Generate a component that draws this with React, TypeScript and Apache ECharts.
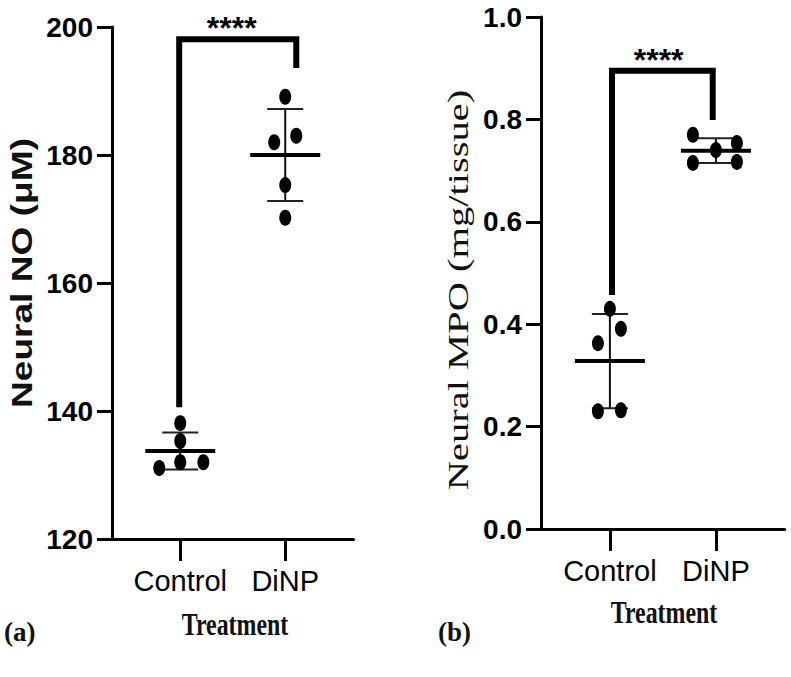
import React, { useEffect, useRef } from "react";
import * as echarts from "echarts";

// ---------- data ----------
const categories = ["Control", "DiNP"];

// Panel (a): Neural NO (µM)
const noAxis = [120, 200, 20]; // min, max, interval
const noControlX = [1, 1, 1, 1.22, 0.8];
const noControlY = [138.1, 135.3, 132.0, 132.0, 131.1];
const noDinpX = [2, 2.105, 1.895, 2, 2];
const noDinpY = [189.1, 183.0, 182.0, 175.3, 170.2];
const noMean = [133.75, 180.0];
const noSD = [2.9, 7.2];
const noBracketX = [0.99, 2.105];
const noBracketY = [140.6, 198.1, 193.6];
const noStarsX = 1.49;

// Panel (b): Neural MPO (mg/tissue)
const mpoAxis = [0, 1, 0.2];
const mpoControlX = [1, 1.104, 0.887, 0.887, 1.104];
const mpoControlY = [0.43, 0.391, 0.363, 0.23, 0.232];
const mpoDinpX = [1.783, 2, 2.198, 1.783, 2.198];
const mpoDinpY = [0.77, 0.74, 0.754, 0.715, 0.717];
const mpoMean = [0.328, 0.739];
const mpoSD = [0.092, 0.024];
const mpoBracketX = [1.02, 1.97];
const mpoBracketY = [0.457, 0.895, 0.799];
const mpoStarsX = 1.46;

const sigLabel = "****";
// --------------------------------------------------

const SANS = "'Liberation Sans', Arial, sans-serif";
const SERIF = "'Liberation Serif', 'Times New Roman', serif";

function xAxisFor(gridIndex: number) {
  return {
    type: "value",
    gridIndex,
    min: 0.35,
    max: 2.65,
    splitLine: { show: false },
    axisLine: { show: true, onZero: false, lineStyle: { color: "#000", width: 3 } },
    axisTick: { show: true, customValues: [1, 2], length: 22, lineStyle: { color: "#000", width: 3 } },
    axisLabel: {
      show: true,
      customValues: [1, 2],
      formatter: (v: number) => categories[Math.round(v) - 1] || "",
      color: "#000",
      fontFamily: SANS,
      fontSize: 29,
      margin: 27,
    },
  };
}

function yAxisFor(gridIndex: number, ax: number[], digits: number) {
  return {
    type: "value",
    gridIndex,
    min: ax[0],
    max: ax[1],
    interval: ax[2],
    splitLine: { show: false },
    axisLine: { show: true, onZero: false, lineStyle: { color: "#000", width: 3 } },
    axisTick: { show: true, length: 15, lineStyle: { color: "#000", width: 3 } },
    axisLabel: {
      color: "#000",
      fontFamily: SANS,
      fontWeight: "bold",
      fontSize: 28,
      margin: 19,
      formatter: (v: number) => v.toFixed(digits),
    },
  };
}

function pointsOf(xs: number[], ys: number[]) {
  return xs.map((x, i) => [x, ys[i]]);
}

function meanSdSeries(idx: number, mean: number[], sd: number[]) {
  return {
    type: "custom",
    xAxisIndex: idx,
    yAxisIndex: idx,
    z: 3,
    data: mean.map((m, i) => [i + 1, m, sd[i]]),
    renderItem: (params: any, api: any) => {
      const x = api.value(0);
      const m = api.value(1);
      const s = api.value(2);
      const pm = api.coord([x, m]);
      const pt = api.coord([x, m + s]);
      const pb = api.coord([x, m - s]);
      return {
        type: "group",
        children: [
          { type: "line", shape: { x1: pt[0], y1: pt[1], x2: pb[0], y2: pb[1] }, style: { stroke: "#111", lineWidth: 2 } },
          { type: "line", shape: { x1: pt[0] - 18, y1: pt[1], x2: pt[0] + 18, y2: pt[1] }, style: { stroke: "#222", lineWidth: 2 } },
          { type: "line", shape: { x1: pb[0] - 18, y1: pb[1], x2: pb[0] + 18, y2: pb[1] }, style: { stroke: "#222", lineWidth: 2 } },
          { type: "line", shape: { x1: pm[0] - 35, y1: pm[1], x2: pm[0] + 35, y2: pm[1] }, style: { stroke: "#000", lineWidth: 4 } },
        ],
      };
    },
  };
}

function dotsSeries(idx: number, xs: number[], ys: number[]) {
  return {
    type: "scatter",
    xAxisIndex: idx,
    yAxisIndex: idx,
    z: 4,
    symbol: "circle",
    symbolSize: [12, 16],
    itemStyle: { color: "#000", opacity: 1 },
    data: pointsOf(xs, ys),
  };
}

function bracketSeries(idx: number, bx: number[], by: number[]) {
  return {
    type: "line",
    xAxisIndex: idx,
    yAxisIndex: idx,
    z: 2,
    symbol: "none",
    clip: false,
    lineStyle: { color: "#000", width: 6, join: "miter", cap: "butt" },
    data: [
      [bx[0], by[0]],
      [bx[0], by[1]],
      [bx[1], by[1]],
      [bx[1], by[2]],
    ],
  };
}

function starsSeries(idx: number, sx: number, by: number[]) {
  return {
    type: "scatter",
    xAxisIndex: idx,
    yAxisIndex: idx,
    z: 5,
    symbolSize: 0,
    clip: false,
    itemStyle: { opacity: 1 },
    label: {
      show: true,
      position: "top",
      distance: 0,
      formatter: () => sigLabel,
      color: "#000",
      fontFamily: SANS,
      fontWeight: "bold",
      fontSize: 32,
      lineHeight: 32,
      offset: [0, 5],
    },
    data: [[sx, by[1]]],
  };
}

function txt(text: string, x: number, y: number, font: string, extra: any = {}, align = "center") {
  return {
    type: "text",
    x,
    y,
    ...extra,
    style: {
      text,
      font,
      fill: "#111",
      align,
      verticalAlign: "middle",
      textAlign: align,
      textVerticalAlign: "middle",
    },
  };
}

export default function App() {
  const ref = useRef<HTMLDivElement>(null);

  useEffect(() => {
    if (!ref.current) return;
    const chart = echarts.init(ref.current, undefined, { renderer: "svg" });
    const option: any = {
      animation: false,
      backgroundColor: "#fff",
      grid: [
        { left: 112, top: 27, width: 241.5, height: 512, containLabel: false, outerBoundsMode: "none" },
        { left: 541, top: 17, width: 243.8, height: 512, containLabel: false, outerBoundsMode: "none" },
      ],
      xAxis: [xAxisFor(0), xAxisFor(1)],
      yAxis: [yAxisFor(0, noAxis, 0), yAxisFor(1, mpoAxis, 1)],
      series: [
        bracketSeries(0, noBracketX, noBracketY),
        starsSeries(0, noStarsX, noBracketY),
        meanSdSeries(0, noMean, noSD),
        dotsSeries(0, noControlX, noControlY),
        dotsSeries(0, noDinpX, noDinpY),
        bracketSeries(1, mpoBracketX, mpoBracketY),
        starsSeries(1, mpoStarsX, mpoBracketY),
        meanSdSeries(1, mpoMean, mpoSD),
        dotsSeries(1, mpoControlX, mpoControlY),
        dotsSeries(1, mpoDinpX, mpoDinpY),
      ],
      graphic: [
        txt("Neural NO (μM)", 22, 273, `bold 29px ${SANS}`, { rotation: Math.PI / 2, scaleX: 1.28 }),
        txt("Neural MPO (mg/tissue)", 458, 290, `30px ${SERIF}`, { rotation: Math.PI / 2, scaleX: 1.35 }),
        txt("Treatment", 235, 624, `bold 31px ${SERIF}`, { scaleX: 0.77 }),
        txt("Treatment", 664, 612, `bold 31px ${SERIF}`, { scaleX: 0.77 }),
        txt("(a)", 4, 632, `bold 27px ${SERIF}`, {}, "left"),
        txt("(b)", 438, 632, `bold 27px ${SERIF}`, {}, "left"),
      ],
    };
    chart.setOption(option);
    return () => chart.dispose();
  }, []);

  return (
    <div
      ref={ref}
      style={{ position: "fixed", left: 0, top: 0, width: 791, height: 677, background: "#fff" }}
    />
  );
}
